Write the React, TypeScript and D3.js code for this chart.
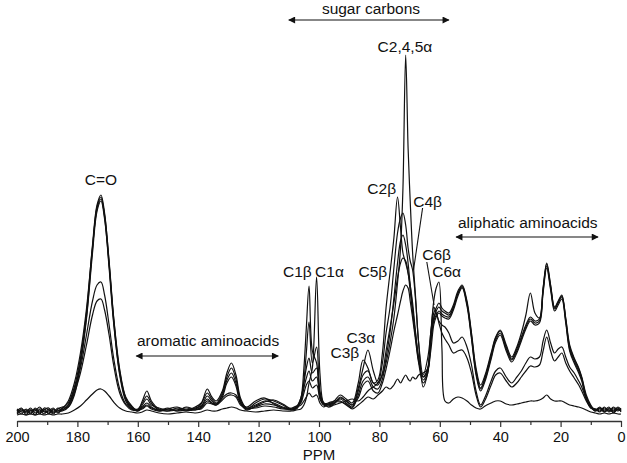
import { useEffect, useRef } from 'react';
import * as d3 from 'd3';

// chemical shift grid (ppm), shared by every spectrum
const ppm = [
  200, 198.5, 197, 195.5, 194, 192.5, 191, 189.5, 188, 186.5, 185,
  183, 181, 179, 177, 175, 173.5, 172.2, 171, 169.5, 168, 166, 164, 162, 160,
  158.5, 157, 155.5, 153, 150, 147, 144, 141, 139, 137, 135.5, 134, 132, 130.5, 129, 127.5, 126, 124, 121, 118, 115, 112, 109, 107.5,
  106, 105, 104.2, 103.3, 102.2, 100.8, 99.7, 98.5, 97, 95, 93, 91, 89,
  87, 85.4, 83.8, 82, 80.5, 79, 77.8, 76.5, 75.2, 74, 73, 72.2, 71.3, 70.5, 69.8, 69, 68, 67, 65.5, 64, 63, 62, 61.2, 60.3, 59.3, 58.3,
  57, 55.5, 54, 52.6, 51, 49.5, 48, 46.5, 45, 43, 41.5, 40, 38, 36.2,
  34.5, 33, 31.5, 30, 28.5, 27, 25.8, 24.6, 23.3, 22, 20.8, 19.6, 18.3, 17, 15.5, 14, 13,
  11.5, 10, 8.5, 7, 5.5, 4, 2.5, 1, 0,
];

// intensities (arbitrary units) of each spectrum on the grid above
const sampleP1 = [
  3, -1, 4, 0, 5, 1, 4, -1, 3, 2, 5,
  10, 26, 55, 100, 168, 208, 218, 200, 150, 95, 42, 15, 6, 3,
  12, 22, 12, 4, 2, 5, 3, 6, 10, 24, 16, 12, 22, 40, 50, 38, 15, 5, 8, 12, 10, 6, 4, 6,
  15, 30, 45, 55, 40, 45, 20, 10, 8, 10, 14, 10, 6,
  22, 38, 42, 30, 28, 40, 62, 85, 110, 135, 150, 155, 152, 140, 122, 100, 75, 52, 36, 44, 80, 100, 105, 110, 105, 102,
  100, 108, 122, 128, 112, 80, 45, 28, 38, 60, 76, 83, 68, 56,
  66, 80, 98, 120, 100, 95, 125, 150, 128, 106, 112, 118, 95, 68, 55, 45, 36,
  18, 8, 3, 6, 1, 5, 2, 6, 3,
];
const sampleP2 = [
  0, 4, 1, 5, 0, 3, -1, 4, 1, 5, 3,
  8, 22, 52, 96, 164, 206, 216, 196, 145, 90, 40, 14, 5, 4,
  10, 17, 10, 3, 5, 2, 6, 4, 9, 20, 14, 10, 20, 36, 45, 34, 13, 4, 10, 14, 12, 8, 3, 5,
  12, 25, 35, 42, 32, 36, 16, 9, 10, 12, 12, 8, 5,
  18, 32, 36, 26, 24, 34, 55, 80, 115, 150, 172, 178, 168, 150, 128, 105, 78, 54, 33, 42, 75, 95, 102, 106, 102, 100,
  98, 106, 120, 127, 110, 78, 42, 25, 36, 58, 75, 82, 66, 54,
  64, 76, 88, 96, 92, 94, 124, 149, 127, 105, 111, 117, 94, 66, 54, 44, 35,
  16, 6, 4, 2, 6, 1, 5, 2, 5,
];
const sampleP3 = [
  2, 5, -2, 3, 2, 6, 1, 2, 5, 0, 4,
  12, 30, 60, 104, 166, 204, 214, 198, 152, 96, 44, 16, 7, 2,
  8, 14, 8, 5, 3, 4, 2, 5, 7, 17, 12, 9, 18, 33, 40, 30, 12, 6, 12, 15, 9, 5, 5, 7,
  10, 20, 28, 32, 25, 28, 14, 8, 7, 9, 15, 12, 8,
  15, 28, 32, 22, 20, 30, 44, 62, 82, 98, 112, 122, 128, 125, 112, 95, 72, 50, 30, 40, 72, 92, 98, 102, 99, 97,
  96, 105, 119, 126, 109, 76, 40, 24, 34, 56, 73, 80, 64, 53,
  62, 74, 86, 94, 90, 92, 122, 147, 125, 104, 110, 116, 92, 64, 52, 42, 34,
  15, 7, 2, 5, 3, 6, 0, 4, 2,
];
const sampleP4 = [
  -1, 2, 3, -1, 4, -1, 5, 3, -1, 4, 6,
  6, 18, 48, 94, 160, 202, 212, 194, 148, 92, 38, 12, 4, 3,
  6, 10, 6, 2, 4, 6, 3, 3, 6, 14, 10, 8, 16, 30, 36, 27, 10, 3, 7, 11, 13, 9, 4, 6,
  8, 12, 16, 20, 16, 18, 10, 6, 9, 11, 11, 9, 4,
  8, 12, 16, 14, 18, 22, 26, 24, 28, 34, 30, 34, 38, 34, 32, 36, 34, 38, 40, 44, 62, 88, 96, 100, 97, 95,
  94, 103, 117, 125, 107, 74, 38, 22, 32, 54, 71, 78, 62, 51,
  60, 72, 84, 92, 88, 90, 120, 145, 123, 102, 108, 114, 90, 62, 50, 40, 32,
  14, 5, 4, 1, 5, 2, 6, 3, 4,
];
const sampleM1 = [
  4, 1, 2, 3, -2, 4, 2, 0, 4, 1, 3,
  8, 24, 45, 78, 112, 128, 131, 118, 88, 55, 24, 9, 4, 2,
  5, 8, 5, 3, 2, 3, 5, 3, 5, 12, 10, 9, 15, 19, 20, 18, 10, 4, 6, 9, 8, 5, 3, 5,
  15, 45, 85, 127, 62, 50, 18, 10, 8, 12, 18, 14, 10,
  30, 53, 45, 30, 33, 60, 105, 140, 175, 216, 185, 160, 150, 140, 128, 110, 80, 55, 36, 45, 75, 106, 100, 92, 88, 86,
  80, 70, 72, 76, 66, 48, 22, 8, 16, 32, 42, 45, 36, 30,
  36, 42, 50, 56, 54, 56, 72, 83, 70, 60, 64, 66, 56, 46, 40, 32, 26,
  14, 6, 2, 4, 1, 4, 3, 5, 1,
];
const sampleM2 = [
  1, 3, 0, 2, 3, 0, 3, 5, 0, 3, 2,
  6, 20, 40, 68, 98, 112, 114, 103, 78, 48, 20, 8, 3, 3,
  4, 7, 4, 2, 4, 2, 3, 4, 4, 10, 9, 8, 13, 17, 18, 16, 8, 5, 5, 7, 6, 4, 4, 4,
  12, 32, 60, 91, 50, 66, 22, 10, 9, 10, 16, 12, 8,
  25, 45, 63, 42, 30, 50, 80, 105, 145, 180, 195, 200, 188, 165, 152, 143, 112, 70, 26, 40, 70, 95, 100, 90, 80, 74,
  68, 60, 62, 63, 55, 40, 18, 6, 13, 28, 38, 40, 32, 26,
  30, 36, 42, 47, 46, 48, 62, 76, 62, 52, 56, 60, 50, 42, 35, 28, 22,
  12, 5, 3, 5, 2, 3, 1, 4, 2,
];
const sampleL = [
  -2, -1, -2, -1, -2, -1, -2, -1, -2, -1, -1,
  0, 3, 7, 13, 19, 23, 24, 22, 17, 11, 5, 2, 1, 0,
  1, 3, 2, 0, -1, 0, 1, 0, 1, 3, 2, 2, 4, 5, 6, 5, 3, 2, 1, 2, 3, 2, 2, 3,
  4, 8, 15, 30, 45, 136, 40, 10, 6, 8, 10, 12, 14,
  12, 16, 22, 26, 30, 38, 50, 70, 95, 130, 165, 225, 358, 265, 212, 160, 115, 70, 38, 55, 80, 112, 125, 131, 65, 12,
  10, 14, 16, 15, 12, 8, 5, 4, 7, 10, 12, 12, 9, 8,
  9, 10, 11, 12, 12, 13, 15, 18, 14, 12, 12, 12, 10, 8, 7, 6, 5,
  3, 1, 0, -1, 0, -1, 0, -1, -1,
];

const spectra = [sampleP1, sampleP2, sampleP3, sampleP4, sampleM1, sampleM2, sampleL];

const majorTicks = [200, 180, 160, 140, 120, 100, 80, 60, 40, 20, 0];
const minorTicks = [190, 170, 150, 130, 110, 90, 70, 50, 30, 10];

// peak assignments: [label, left x in ppm, baseline y in intensity units]
const peakLabels: [string, number, number][] = [
  ['C1β', 111.9, 136],
  ['C1α', 101.3, 136],
  ['C5β', 86.9, 136],
  ['C3α', 90.9, 70],
  ['C3β', 96.2, 55],
  ['C2β', 84.0, 219],
  ['C4β', 68.8, 206],
  ['C6β', 65.8, 153],
  ['C6α', 62.5, 136],
  ['C2,4,5α', 80.6, 361],
];

const W = 627;
const H = 463;
const FONT = '"Liberation Sans", Arial, sans-serif';

const App = () => {
  const axisRef = useRef<SVGGElement>(null);

  const x = d3.scaleLinear().domain([200, 0]).range([17, 621]);
  const y = d3.scaleLinear().domain([0, 358]).range([413, 55]);

  const line = d3
    .line<number>()
    .x((_, i) => x(ppm[i]))
    .y((d) => y(d))
    .curve(d3.curveCatmullRom.alpha(0.5));

  useEffect(() => {
    const g = d3.select(axisRef.current);
    g.selectAll('*').remove();

    g.append('g')
      .call(d3.axisBottom(x).tickValues(minorTicks).tickSize(4).tickSizeOuter(0).tickFormat(() => ''))
      .call((s) => s.select('.domain').remove());

    const major = g
      .append('g')
      .call(d3.axisBottom(x).tickValues(majorTicks).tickSize(6).tickSizeOuter(0).tickPadding(5));
    major.select('.domain').attr('stroke', '#333').attr('stroke-width', 1.6);
    major
      .selectAll('.tick text')
      .attr('font-family', FONT)
      .attr('font-size', 14.5)
      .attr('fill', '#111');
    g.selectAll('.tick line').attr('stroke', '#333').attr('stroke-width', 1.2);
  }, []);

  return (
    <svg width={W} height={H} style={{ position: 'absolute', left: 0, top: 0, background: '#fff' }}>
      <defs>
        <marker id="ah" viewBox="0 0 10 10" refX="9" refY="5" markerWidth="10" markerHeight="7" orient="auto-start-reverse" markerUnits="userSpaceOnUse">
          <path d="M0,0 L10,5 L0,10 z" fill="#111" />
        </marker>
      </defs>
      <rect width={W} height={H} fill="#fff" />

      <g fill="none" stroke="#111" strokeWidth={1.2} strokeLinejoin="round">
        {spectra.map((s, i) => (
          <path key={i} d={line(s) ?? ''} />
        ))}
      </g>

      <g ref={axisRef} transform="translate(0,421)" />
      <text x={319} y={460} textAnchor="middle" fontFamily={FONT} fontSize={15} fill="#111">
        PPM
      </text>

      <g fontFamily={FONT} fontSize={15.5} fill="#111">
        <text x={x(172.2)} y={185} textAnchor="middle">C=O</text>
        {peakLabels.map(([t, p, h]) => (
          <text key={t} x={x(p)} y={y(h)}>
            {t}
          </text>
        ))}
      </g>
      <g fontFamily={FONT} fontSize={15.5} fill="#111">
        <text x={371} y={14} textAnchor="middle">sugar carbons</text>
        <text x={137} y={346}>aromatic aminoacids</text>
        <text x={458} y={228}>aliphatic aminoacids</text>
      </g>

      <g stroke="#111" strokeWidth={1.1}>
        <line x1={x(110)} x2={x(57)} y1={20} y2={20} markerStart="url(#ah)" markerEnd="url(#ah)" />
        <line x1={x(160.5)} x2={x(113.5)} y1={356} y2={356} markerStart="url(#ah)" markerEnd="url(#ah)" />
        <line x1={x(54.6)} x2={x(7.6)} y1={237} y2={237} markerStart="url(#ah)" markerEnd="url(#ah)" />
        {/* leader lines */}
        <line x1={x(65.7)} y1={y(205)} x2={x(68.7)} y2={y(143)} />
        <line x1={x(64.3)} y1={y(151)} x2={x(61.9)} y2={y(108)} />
      </g>
    </svg>
  );
};

export default App;
